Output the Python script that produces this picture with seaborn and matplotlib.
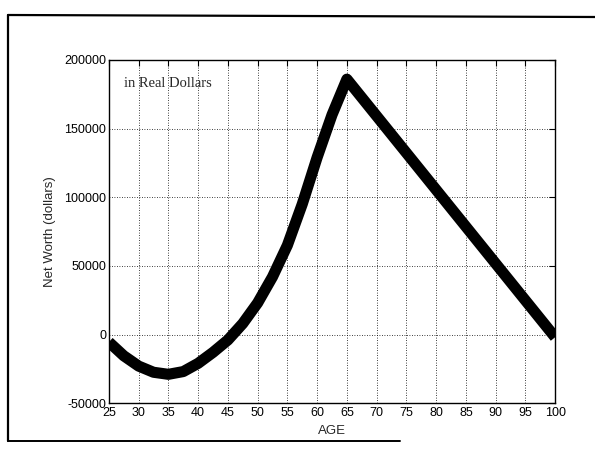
import matplotlib
matplotlib.use("Agg")
import matplotlib.pyplot as plt
from matplotlib.lines import Line2D
import seaborn as sns
import pandas as pd

# ---- data ----
ages = [25, 27.5, 30, 32.5, 35, 37.5, 40, 42.5, 45, 47.5, 50, 52.5, 55,
        57.5, 60, 62.5, 65, 100]
net_worth = [-5500, -15500, -23000, -27500, -29000, -27000, -21000, -13000,
             -4000, 8000, 23000, 42000, 65000, 95000, 129000, 160000,
             186000, -2000]
x_ticks = [25, 30, 35, 40, 45, 50, 55, 60, 65, 70, 75, 80, 85, 90, 95, 100]
y_ticks = [-50000, 0, 50000, 100000, 150000, 200000]
x_label = "AGE"
y_label = "Net Worth (dollars)"
annotation = "in Real Dollars"

df = pd.DataFrame({"age": ages, "worth": net_worth})

sns.set_style("white")
plt.rcParams["font.family"] = ["Liberation Sans", "DejaVu Sans"]

fig = plt.figure(figsize=(5.95, 4.54), dpi=100)
ax = fig.add_axes([0.183, 0.112, 0.750, 0.756])

sns.lineplot(data=df, x="age", y="worth", ax=ax, color="black",
             linewidth=8, solid_joinstyle="round", solid_capstyle="butt",
             sort=False)

ax.set_xlim(25, 100)
ax.set_ylim(-50000, 200000)
ax.set_xticks(x_ticks)
ax.set_yticks(y_ticks)
ax.set_xticklabels([str(t) for t in x_ticks])
ax.set_yticklabels([str(t) for t in y_ticks])
ax.tick_params(axis="both", direction="in", length=4, width=0.8,
               labelsize=9, colors="black", top=True, right=True)
ax.tick_params(axis="y", pad=2)
ax.tick_params(axis="x", pad=3)
ax.grid(True, color="black", linestyle=(0, (1, 2)), linewidth=0.6)
ax.set_axisbelow(True)
for s in ax.spines.values():
    s.set_color("black")
    s.set_linewidth(1.0)

ax.set_xlabel(x_label, fontsize=9.5, labelpad=4)
ax.set_ylabel(y_label, fontsize=9.5, labelpad=6)

ax.text(0.034, 0.93, annotation, transform=ax.transAxes, fontsize=10.5,
        family=["Liberation Serif", "DejaVu Serif"], va="center", ha="left")

# scanned page frame
fig.add_artist(Line2D([8 / 595, 8 / 595], [1 - 15 / 454, 1 - 441 / 454],
                      transform=fig.transFigure, color="black", linewidth=1.6))
fig.add_artist(Line2D([8 / 595, 1.0], [1 - 15 / 454, 1 - 17 / 454],
                      transform=fig.transFigure, color="black", linewidth=1.6))
fig.add_artist(Line2D([8 / 595, 400 / 595], [1 - 441 / 454, 1 - 441 / 454],
                      transform=fig.transFigure, color="black", linewidth=1.4))

fig.savefig("out.png", dpi=100)
